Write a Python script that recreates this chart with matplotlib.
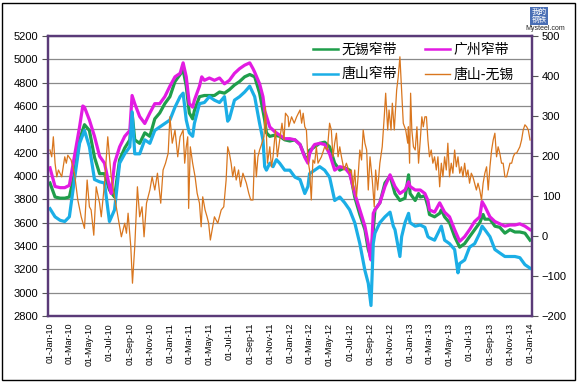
import matplotlib
matplotlib.use("Agg")
import matplotlib.pyplot as plt
import matplotlib.dates as mdates
from matplotlib.patches import Rectangle
import datetime as dt
import calendar

plt.rcParams['font.family'] = ['Liberation Sans', 'Noto Sans CJK SC', 'DejaVu Sans']

# ---------------- data (x = months since 2010-01-01) ----------------
wuxi_m = [0, 0.5, 1, 1.5, 2, 2.5, 3, 3.5, 4, 4.5, 5, 5.5, 6, 6.5, 7, 7.5, 8, 8.23, 8.5, 9, 9.5, 10, 10.5, 11, 11.5,
          12, 12.5, 13, 13.33, 13.67, 14, 14.33, 14.5, 15, 15.5, 16, 16.5, 17, 17.5, 18, 18.5, 19, 19.5, 20, 20.5, 21,
          21.5, 21.67, 22, 22.5, 23, 23.5,
          24, 24.5, 25, 25.5, 25.83, 26, 26.5, 27, 27.5, 28, 28.5, 29, 29.5, 30, 30.5, 31, 31.5, 31.83, 32.1, 32.5, 33,
          33.5, 34, 34.5, 35, 35.5, 35.85,
          36, 36.5, 36.83, 37, 37.5, 37.83, 38, 38.5, 39, 39.17, 39.5, 40, 40.5, 41, 41.5, 42, 42.5, 43, 43.33, 43.5,
          44, 44.5, 45, 45.5, 46, 46.5, 47, 47.5, 48]
wuxi = [3940, 3820, 3810, 3810, 3820, 4020, 4310, 4440, 4390, 4160, 4020, 4020, 3880, 3820, 4140, 4240, 4310, 4540,
        4310, 4280, 4370, 4340, 4490, 4540, 4620,
        4680, 4810, 4870, 4910, 4770, 4540, 4490, 4560, 4680, 4690, 4690, 4690, 4720, 4710, 4740, 4780, 4810, 4850,
        4870, 4850, 4710, 4480, 4370, 4340, 4350, 4340, 4310,
        4300, 4310, 4270, 4170, 4140, 4220, 4250, 4280, 4290, 4250, 4110, 4050, 4070, 4050, 3820, 3670, 3540, 3370,
        3300, 3710, 3770, 3940, 4000, 3850, 3790, 3810, 4010,
        3850, 3790, 3850, 3820, 3830, 3740, 3670, 3650, 3680, 3710, 3650, 3600, 3480, 3390, 3420, 3480, 3540, 3600,
        3670, 3630, 3630, 3570, 3560, 3510, 3540, 3520, 3520, 3510, 3450]

gz_m = [0, 0.5, 1, 1.5, 2, 2.5, 3, 3.33, 3.5, 4, 4.5, 5, 5.5, 6, 6.17, 6.5, 7, 7.5, 8, 8.23, 8.5, 9, 9.5, 10, 10.5,
        11, 11.5,
        12, 12.5, 13, 13.33, 13.67, 14, 14.33, 14.5, 15, 15.23, 15.5, 16, 16.5, 17, 17.5, 18, 18.5, 19, 19.5, 20,
        20.33, 20.5, 21, 21.33, 21.5, 22, 22.5, 23, 23.5,
        24, 24.5, 25, 25.5, 25.83, 26, 26.33, 26.5, 27, 27.5, 28, 28.5, 29, 29.5, 30, 30.5, 31, 31.5, 31.83, 32,
        32.1, 32.33, 32.5, 33, 33.5, 34, 34.5, 35, 35.5, 35.85,
        36, 36.5, 37, 37.5, 37.83, 38, 38.5, 39, 39.5, 40, 40.5, 41, 41.5, 42, 42.5, 43, 43.23, 43.5, 44, 44.5, 45,
        45.5, 46, 46.5, 47, 47.5, 48]
guangzhou = [4070, 3910, 3900, 3900, 3920, 4170, 4420, 4600, 4590, 4480, 4340, 4170, 4110, 3910, 3850, 4110, 4250,
             4340, 4390, 4690, 4620, 4510, 4450, 4540, 4620, 4620, 4680,
             4770, 4850, 4880, 4970, 4850, 4620, 4590, 4650, 4770, 4850, 4820, 4840, 4820, 4840, 4790, 4820, 4880,
             4920, 4950, 4970, 4920, 4890, 4790, 4680, 4560, 4420, 4380, 4350, 4320,
             4320, 4310, 4270, 4160, 4110, 4190, 4250, 4270, 4280, 4270, 4190, 4050, 4080, 4070, 4020, 3850, 3710,
             3570, 3420, 3310, 3280, 3680, 3710, 3770, 3910, 4010, 3910, 3850, 3880, 3950,
             3910, 3880, 3880, 3850, 3790, 3710, 3690, 3770, 3690, 3650, 3540, 3440, 3480, 3540, 3610, 3650, 3780,
             3740, 3650, 3610, 3590, 3570, 3580, 3580, 3590, 3570, 3540]

ts_m = [0, 0.5, 1, 1.5, 2, 2.5, 3, 3.5, 4, 4.5, 5, 5.5, 6, 6.5, 7, 7.5, 8, 8.23, 8.5, 9, 9.5, 10, 10.5, 11, 11.5,
        12, 12.5, 13, 13.33, 13.67, 14, 14.33, 14.5, 15, 15.5, 16, 16.5, 17, 17.5, 17.83, 18, 18.5, 19, 19.5, 20,
        20.5, 21, 21.33, 21.5, 21.67, 22, 22.33, 22.67, 23, 23.5,
        24, 24.5, 25, 25.5, 25.83, 26, 26.5, 27, 27.5, 28, 28.5, 29, 29.5, 30, 30.5, 31, 31.5, 31.83, 32.1, 32.33,
        32.5, 33, 33.5, 34, 34.33, 34.5, 35, 35.17, 35.5, 35.85,
        36, 36.5, 37, 37.5, 37.83, 38, 38.5, 39, 39.17, 39.5, 40, 40.5, 40.83, 41, 41.5, 42, 42.5, 43, 43.23, 43.5,
        44, 44.5, 45, 45.5, 46, 46.5, 47, 47.5, 48]
tangshan = [3720, 3650, 3620, 3610, 3650, 3970, 4280, 4390, 4250, 3970, 3950, 3940, 3610, 3710, 4110, 4190, 4250,
            4550, 4190, 4190, 4310, 4280, 4390, 4420, 4450,
            4480, 4590, 4680, 4710, 4480, 4370, 4340, 4450, 4620, 4630, 4680, 4650, 4630, 4680, 4470, 4490, 4650,
            4680, 4720, 4770, 4680, 4450, 4310, 4080, 4050, 4110, 4080, 4140, 4110, 4050,
            4050, 3990, 3970, 3850, 3910, 4020, 4050, 4080, 4050, 3990, 3790, 3820, 3770, 3710, 3600, 3420, 3190,
            3080, 2890, 3420, 3510, 3600, 3650, 3690, 3570, 3540, 3310, 3480, 3600, 3680,
            3600, 3570, 3580, 3560, 3480, 3470, 3450, 3540, 3570, 3450, 3420, 3370, 3170, 3250, 3280, 3390, 3420,
            3510, 3570, 3540, 3480, 3370, 3340, 3310, 3310, 3310, 3300, 3240, 3210]

spread_m = [0, 0.17, 0.33, 0.5, 0.67, 0.83, 1.17, 1.5, 1.67, 1.83, 2.17, 2.5, 2.83, 3.17, 3.5, 3.77, 4.0, 4.17,
            4.43, 4.67, 5.0, 5.17, 5.5, 5.83, 6.0, 6.17, 6.5, 6.83, 7.17, 7.5, 7.67, 7.83, 8.1, 8.27, 8.5, 8.77,
            9.0, 9.23, 9.43, 9.67, 10.0, 10.23, 10.5, 10.77, 11.1, 11.33, 11.57, 11.83,
            12.0, 12.23, 12.5, 12.77, 13.0, 13.33, 13.5, 13.67, 13.83, 13.93, 14.1, 14.33, 14.57, 14.77, 15.0,
            15.17, 15.33, 15.57, 15.77, 15.93, 16.1, 16.33, 16.5, 16.83, 17.17, 17.43, 17.67, 17.83, 18.0, 18.17,
            18.33, 18.5, 18.67, 18.9, 19.1, 19.33, 19.67, 19.9, 20.1, 20.33, 20.5, 20.67, 20.83, 21.0, 21.23,
            21.43, 21.57, 21.77, 22.0, 22.17, 22.33, 22.57, 22.77, 23.0, 23.23, 23.43, 23.57, 23.83,
            23.9, 24.17, 24.43, 24.67, 25.0, 25.17, 25.33, 25.5, 25.67, 25.83, 26.0, 26.17, 26.33, 26.5, 26.67,
            26.83, 27.17, 27.5, 27.77, 28.0, 28.17, 28.33, 28.5, 28.67, 28.83, 29.0, 29.17, 29.43, 29.67, 30.0,
            30.17, 30.33, 30.5, 30.67, 30.83, 31.0, 31.17, 31.33, 31.5, 31.67, 31.83, 32.0, 32.23, 32.43, 32.57,
            32.77, 33.0, 33.23, 33.43, 33.57, 33.77, 33.9, 34.1, 34.23, 34.43, 34.67, 34.83, 35.0, 35.17, 35.33,
            35.57, 35.77, 35.83, 35.95,
            36.05, 36.17, 36.33, 36.5, 36.67, 36.83, 37.0, 37.17, 37.33, 37.5, 37.67, 37.83, 38.0, 38.17, 38.33,
            38.5, 38.67, 38.83, 39.0, 39.17, 39.33, 39.5, 39.67, 39.83, 40.0, 40.17, 40.33, 40.5, 40.67, 40.83,
            41.0, 41.17, 41.33, 41.5, 41.67, 41.83, 42.0, 42.17, 42.33, 42.5, 42.67, 42.83, 43.0, 43.17, 43.33,
            43.5, 43.67, 43.83, 44.0, 44.17, 44.33, 44.5, 44.67, 44.83, 45.0, 45.17, 45.33, 45.5, 45.67, 45.83,
            46.0, 46.17, 46.33, 46.5, 46.67, 46.83, 47.0, 47.17, 47.33, 47.5, 47.67, 47.83, 48.0]
spread = [215, 198, 248, 182, 148, 165, 148, 198, 182, 202, 190, 157, 90, 48, 19, 140, 73, 65,
          2, 123, 82, 48, 132, 248, 198, 148, 98, 48, -2, 32, 7, 57, -27, -118, -27, 123,
          48, 73, -2, 82, 115, 148, 115, 157, 82, 165, 182, 207,
          298, 232, 265, 198, 248, 265, 182, 223, 248, 69, 223, 182, 148, 107, 82,
          23, 98, 65, 48, 32, -10, 23, 48, 32, 65, 73, 140, 223, 207, 182,
          148, 173, 140, 165, 123, 157, 132, 107, 90, 90, 215, 148, 198, 215, 232,
          248, 323, 182, 223, 173, 198, 265, 198, 240, 282, 240, 307, 298,
          273, 298, 282, 298, 315, 282, 307, 273, 265, 190, 165, 90, 190, 182, 223,
          182, 198, 223, 215, 282, 265, 198, 232, 257, 198, 223, 198, 165, 182, 157,
          165, 115, 165, 98, 148, 215, 190, 265, 232, 215, 115, 198, 140, 73, 165,
          115, 182, 223, 298, 357, 265, 315, 265, 332, 265, 365, 398, 448, 365, 282,
          265, 232, 273, 182,
          357, 265, 223, 215, 273, 182, 240, 298, 273, 298, 298, 240, 198, 215, 182,
          198, 165, 198, 123, 182, 148, 198, 165, 232, 148, 182, 157, 215, 173, 198,
          157, 173, 148, 182, 148, 165, 132, 157, 148, 132, 115, 132, 115, 90, 132,
          157, 173, 115, 173, 215, 240, 257, 198, 223, 207, 182, 182, 148, 148, 165,
          182, 182, 198, 207, 207, 215, 223, 240, 265, 278, 273, 265, 240]

labels = ['无锡窄带', '广州窄带', '唐山窄带', '唐山-无锡']
colors = ['#1F9E4B', '#E21BE2', '#1BAEE6', '#D9761E']


def to_dates(months):
    out = []
    for m in months:
        mi = int(m // 1)
        frac = m - mi
        y = 2010 + mi // 12
        mo = mi % 12 + 1
        ndays = calendar.monthrange(y, mo)[1]
        out.append(dt.datetime(y, mo, 1) + dt.timedelta(days=frac * ndays))
    return out


W, H = 578, 383
fig = plt.figure(figsize=(W / 100, H / 100), dpi=100)
ax = fig.add_axes([48 / W, 1 - 316 / H, (532 - 48) / W, (316 - 36) / H])
ax2 = ax.twinx()

ax.set_ylim(2800, 5200)
ax.set_yticks(range(2800, 5201, 200))
ax2.set_ylim(-200, 500)
ax2.set_yticks(range(-200, 501, 100))

ax.grid(axis='y', color='#8a8a8a', linewidth=0.9)
ax.set_axisbelow(True)

l1, = ax.plot(to_dates(wuxi_m), wuxi, color=colors[0], lw=2.3, label=labels[0], zorder=3)
l2, = ax.plot(to_dates(gz_m), guangzhou, color=colors[1], lw=2.3, label=labels[1], zorder=4)
l3, = ax.plot(to_dates(ts_m), tangshan, color=colors[2], lw=2.3, label=labels[2], zorder=5)
l4, = ax2.plot(to_dates(spread_m), spread, color=colors[3], lw=0.9, label=labels[3])

ax.set_xlim(dt.datetime(2009, 12, 26), dt.datetime(2014, 1, 7))
ax.xaxis.set_major_locator(mdates.MonthLocator(bymonth=[1, 3, 5, 7, 9, 11]))
ax.xaxis.set_major_formatter(mdates.DateFormatter('%d-%b-%y'))
for t in ax.get_xticklabels():
    t.set_rotation(90)
    t.set_fontsize(6.5)
ax.tick_params(axis='x', length=0, pad=5)
ax.tick_params(axis='y', labelsize=8, length=4, color='#555555', pad=3)
ax2.tick_params(axis='y', labelsize=8, length=4, color='#555555', pad=3)

frame_c = '#5A3A78'
for a in (ax, ax2):
    for s in a.spines.values():
        s.set_color(frame_c)
        s.set_linewidth(1.6)

leg = ax.legend(handles=[l1, l3, l2, l4], ncol=2, loc='upper left',
                bbox_to_anchor=((306 - 48) / (532 - 48), 1.0), frameon=False,
                prop={'family': ['Noto Sans CJK SC'], 'size': 10},
                handlelength=1.8, columnspacing=2.0, labelspacing=0.75, handletextpad=0.25,
                borderaxespad=0.1)
leg.set_zorder(10)
for h in leg.legend_handles[:3]:
    h.set_linewidth(1.8)
leg.legend_handles[3].set_linewidth(1.0)

# Mysteel logo
fig.text(539 / W, 1 - 16 / H, '我的\n钢铁', fontsize=5.5, color='white', ha='center', va='center',
         family=['Noto Sans CJK SC'], linespacing=1.0,
         bbox=dict(boxstyle='square,pad=0.15', fc='#4A6FB5', ec='none'), zorder=20)
fig.text(545 / W, 1 - 29 / H, 'Mysteel.com', fontsize=5.0, color='#222222', ha='center', va='center',
         zorder=20)

# outer border
fig.patches.append(Rectangle((2 / W, 3 / H), (W - 5) / W, (H - 6) / H, transform=fig.transFigure,
                             fill=False, ec='black', lw=1.0))

fig.savefig('out.png', dpi=100, facecolor='white')
